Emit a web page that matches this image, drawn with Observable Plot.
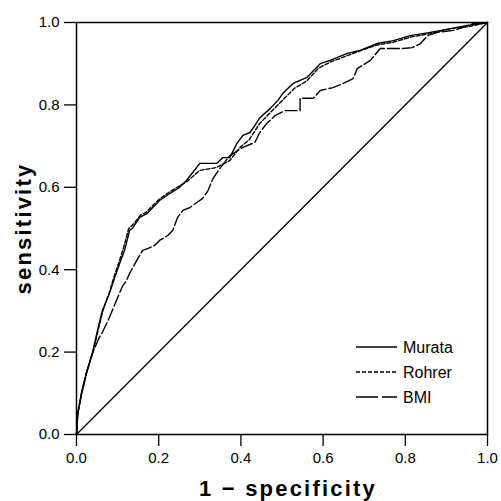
<!DOCTYPE html>
<html><head><meta charset="utf-8">
<script src="https://cdn.jsdelivr.net/npm/d3@7"></script>
<script src="https://cdn.jsdelivr.net/npm/@observablehq/plot@0.6"></script>
<style>body{margin:0;background:#fff;}</style>
</head><body><div id="chart"></div>
<script>
// ROC curves: x = 1 - specificity, y = sensitivity
const murataX = [0,0.003,0.012,0.024,0.039,0.051,0.063,0.08,0.093,0.105,0.117,0.129,0.137,0.154,0.171,0.202,0.227,0.251,0.268,0.3,0.341,0.356,0.373,0.39,0.405,0.422,0.434,0.446,0.471,0.49,0.502,0.527,0.561,0.593,0.617,0.659,0.69,0.732,0.771,0.812,0.861,0.91,0.951,0.99,1];
const murataY = [0,0.05,0.1,0.15,0.199,0.252,0.301,0.342,0.381,0.415,0.447,0.495,0.502,0.527,0.536,0.568,0.585,0.6,0.617,0.658,0.658,0.672,0.672,0.706,0.726,0.733,0.75,0.769,0.791,0.811,0.828,0.852,0.867,0.9,0.908,0.925,0.932,0.949,0.956,0.968,0.976,0.985,0.993,0.998,1];
const rohrerX = [0,0.003,0.013,0.025,0.04,0.052,0.064,0.08,0.092,0.104,0.115,0.127,0.14,0.155,0.17,0.2,0.225,0.25,0.27,0.3,0.341,0.373,0.398,0.42,0.446,0.47,0.49,0.51,0.53,0.56,0.59,0.62,0.66,0.7,0.73,0.77,0.815,0.86,0.91,0.955,0.985,1];
const rohrerY = [0,0.05,0.1,0.15,0.2,0.25,0.3,0.345,0.385,0.42,0.455,0.5,0.512,0.532,0.54,0.57,0.588,0.603,0.615,0.641,0.648,0.665,0.697,0.715,0.755,0.78,0.8,0.82,0.84,0.858,0.89,0.905,0.92,0.935,0.945,0.952,0.965,0.973,0.985,0.99,0.997,1];
const bmiX = [0,0.003,0.012,0.024,0.04,0.055,0.063,0.08,0.097,0.112,0.122,0.129,0.137,0.149,0.161,0.173,0.19,0.202,0.222,0.234,0.246,0.259,0.276,0.293,0.307,0.32,0.332,0.349,0.373,0.405,0.434,0.446,0.463,0.483,0.507,0.544,0.544,0.576,0.593,0.624,0.649,0.673,0.683,0.715,0.739,0.795,0.817,0.837,0.854,0.878,0.917,0.941,0.966,1];
const bmiY = [0,0.05,0.1,0.15,0.2,0.235,0.248,0.284,0.325,0.36,0.374,0.391,0.405,0.427,0.447,0.451,0.459,0.471,0.483,0.495,0.527,0.544,0.551,0.563,0.573,0.592,0.621,0.646,0.677,0.697,0.709,0.733,0.755,0.774,0.786,0.786,0.816,0.816,0.835,0.842,0.852,0.864,0.888,0.908,0.937,0.937,0.939,0.949,0.968,0.976,0.981,0.988,0.998,1];
const refX = [0, 1];
const refY = [0, 1];
const seriesNames = ["Murata", "Rohrer", "BMI"];
const xTicks = [0, 0.2, 0.4, 0.6, 0.8, 1.0];
const yTicks = [0, 0.2, 0.4, 0.6, 0.8, 1.0];
const xLabel = "1 − specificity";
const yLabel = "sensitivity";

const dash = {Murata: null, Rohrer: "4,2", BMI: "12,3"};
const toRows = (xs, ys, s) => xs.map((x, i) => ({x, y: ys[i], s}));
const curves = [toRows(murataX, murataY, "Murata"), toRows(rohrerX, rohrerY, "Rohrer"), toRows(bmiX, bmiY, "BMI")];
const diag = toRows(refX, refY, "ref");

const font = "'Liberation Sans', Arial, sans-serif";
const chart = Plot.plot({
  width: 501, height: 501,
  marginLeft: 76, marginRight: 14, marginTop: 22, marginBottom: 67,
  style: {fontFamily: font, background: "white", color: "black", overflow: "visible"},
  x: {domain: [0, 1]},
  y: {domain: [0, 1]},
  marks: [
    Plot.frame({stroke: "black", strokeWidth: 1.5}),
    Plot.axisX({ticks: xTicks, tickSize: 12, tickPadding: 6, tickFormat: d3.format(".1f"), label: null, fontSize: 15, strokeWidth: 1.3}),
    Plot.axisY({ticks: yTicks, tickSize: 12, tickPadding: 5, tickFormat: d3.format(".1f"), label: null, fontSize: 15, strokeWidth: 1.3}),
    Plot.line(diag, {x: "x", y: "y", stroke: "black", strokeWidth: 1.3}),
    ...curves.map((rows, i) => Plot.line(rows, {x: "x", y: "y", stroke: "black", strokeWidth: 1.4,
        strokeDasharray: dash[seriesNames[i]] ?? undefined})),
    Plot.text([xLabel], {text: d => d, frameAnchor: "bottom", dx: 6, dy: 61, lineAnchor: "bottom", textAnchor: "middle",
        fontSize: 22, fontWeight: "bold"}),
    Plot.text([yLabel], {text: d => d, frameAnchor: "left", dx: -46, dy: 0, rotate: -90, lineAnchor: "bottom", textAnchor: "middle",
        fontSize: 22, fontWeight: "bold"})
  ]
});

const svg = d3.select(chart);
svg.selectAll("text").filter(function() { return this.textContent === xLabel || this.textContent === yLabel; })
   .style("letter-spacing", "2.2px");

// Legend (inside the plot, lower right)
const lg = svg.append("g").attr("font-family", font).attr("font-size", 16).attr("text-anchor", "start");
seriesNames.forEach((name, i) => {
  const y = 347 + i * 25;
  lg.append("line").attr("x1", 356).attr("x2", 397).attr("y1", y).attr("y2", y)
    .attr("stroke", "black").attr("stroke-width", 1.4)
    .attr("stroke-dasharray", name === "BMI" ? "22,4" : dash[name]);
  lg.append("text").attr("x", 403).attr("y", y).attr("dy", "0.35em").attr("text-anchor", "start").text(name);
});

document.getElementById("chart").append(chart);
</script>
</body></html>
